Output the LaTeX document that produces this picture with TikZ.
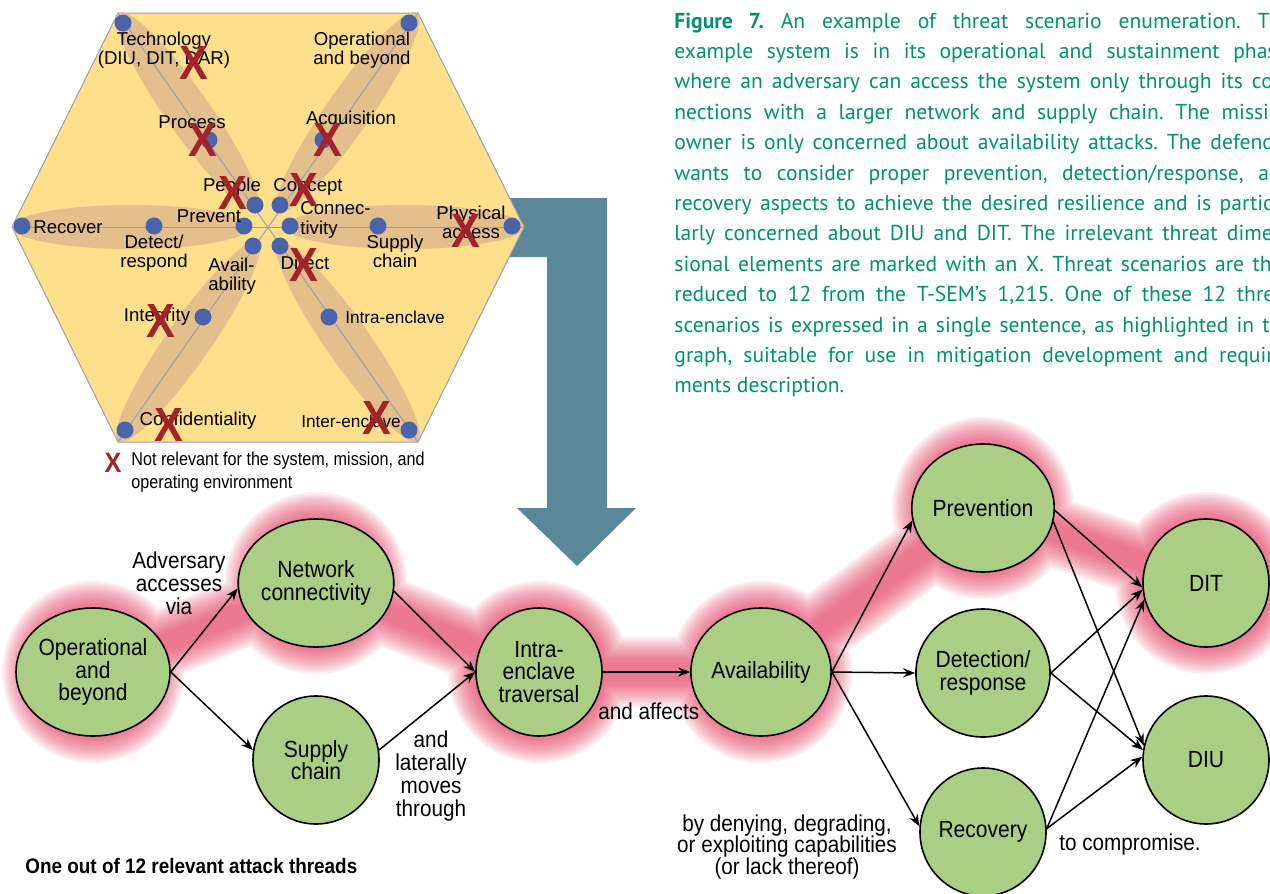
\documentclass[tikz,border=0pt]{standalone}
\usepackage{fontspec}
\setmainfont{Liberation Sans}
\newfontfamily\condf[FakeStretch=0.9]{Liberation Sans}
\newfontfamily\legf[FakeStretch=0.87]{Liberation Sans}
\newfontfamily\capf{PT Sans}
\usetikzlibrary{arrows.meta,shapes.geometric}
\definecolor{hexfill}{HTML}{FDDF8C}
\definecolor{petal}{HTML}{E3BF8B}
\definecolor{dotblue}{HTML}{4A64AC}
\definecolor{xred}{HTML}{A3232B}
\definecolor{arrowteal}{HTML}{5A889A}
\definecolor{nodegreen}{HTML}{AACE83}
\definecolor{glowred}{HTML}{E23A5C}
\definecolor{capgreen}{RGB}{0,145,112}
\definecolor{hexline}{HTML}{9A9EAE}
\frenchspacing
\begin{document}
\begin{tikzpicture}[x=0.5pt,y=-0.5pt,
  gnode/.style={ellipse, draw=black, line width=0.8pt, fill=nodegreen, minimum width=63pt, minimum height=64pt, inner sep=0pt, align=center, font=\condf\fontsize{11.7pt}{11.3pt}\selectfont},
  conn/.style={line width=0.75pt, -{Stealth[length=6pt,width=4.6pt]}},
  elabel/.style={align=center, font=\condf\fontsize{11.5pt}{11.5pt}\selectfont, inner sep=0pt},
  hlabel/.style={align=center, font=\fontsize{9.3pt}{9.6pt}\selectfont, inner sep=0pt},
  hsmall/.style={align=center, font=\fontsize{8.6pt}{9pt}\selectfont, inner sep=0pt},
  xmark/.style={text=xred, font=\condf\bfseries\fontsize{24pt}{24pt}\selectfont, inner sep=0pt},
  bluedot/.style={fill=dotblue},
  petalfill/.style={fill=petal},
  capline/.style={anchor=base west, inner sep=0pt, text=capgreen, font=\capf\fontsize{10.8pt}{11pt}\selectfont}
]
\useasboundingbox (0,0) rectangle (1270,894);
\clip (0,0) rectangle (1270,894);

% ---------- big bent arrow (behind hexagon)
\fill[arrowteal] (505,198) -- (607,198) -- (607,508) -- (636,508) -- (577,566) -- (517,508) -- (547,508) -- (547,257) -- (505,257) -- cycle;

% ---------- hexagon
\filldraw[fill=hexfill, draw=hexline, line width=0.5pt] (118,13) -- (418,13) -- (524,227) -- (418,442) -- (118,442) -- (12,227) -- cycle;

% petals
\fill[petalfill, rotate around={125:(188,112)}] (188,112) ellipse [x radius=121, y radius=22];
\fill[petalfill, rotate around={55:(348,112)}] (348,112) ellipse [x radius=121, y radius=22];
\fill[petalfill, rotate around={55:(188,342)}] (188,342) ellipse [x radius=121, y radius=22];
\fill[petalfill, rotate around={125:(348,342)}] (348,342) ellipse [x radius=121, y radius=22];
\fill[petalfill] (131,227) ellipse [x radius=119, y radius=22];
\fill[petalfill] (405,227) ellipse [x radius=119, y radius=22];

% axes
\draw[hexline, line width=0.5pt] (118,13) -- (418,442);
\draw[hexline, line width=0.5pt] (418,13) -- (118,442);
\draw[hexline, line width=0.5pt] (12,227) -- (524,227);

% dots
\foreach \p in {(123,23),(209,140),(255,205),(409,23),(323,140),(280,205),(22,226),(154,226),(244,226),(512,226),(378,226),(290,226),(253,246),(203,317),(125,430),(280,246),(329,317),(409,430)}
  \fill[bluedot] \p circle[radius=8.5];

% hexagon labels
\node[hlabel] (lTech) at (164,50) {Technology\\(DIU, DIT, DAR)};
\node[hlabel] (lOper) at (362,50) {Operational\\and beyond};
\node[hlabel] (lProc) at (192,122) {Process};
\node[hlabel] (lAcq) at (351,120) {Acquisition};
\node[hlabel] (lPeop) at (232,187) {People};
\node[hlabel] (lConc) at (308,187) {Concept};
\node[hlabel] (lPrev) at (209,216) {Prevent};
\node[hlabel, align=left, anchor=west] (lConn) at (300,220) {Connec-\\tivity};
\node[hlabel] (lRec) at (68,227) {Recover};
\node[hlabel] (lPhys) at (471,222) {Physical\\access};
\node[hlabel] (lDet) at (154,253) {Detect/\\respond};
\node[hlabel] (lSup) at (395,251) {Supply\\chain};
\node[hlabel, align=left, anchor=west] (lAvail) at (208,276) {Avail-\\ability};
\node[hlabel] (lDir) at (305,263) {Direct};
\node[hlabel] (lInt) at (157,317) {Integrity};
\node[hsmall] (lIntra) at (395,317) {Intra-enclave};
\node[hlabel] (lConf) at (198,421) {Confidentiality};
\node[hsmall] (lInter) at (351,421) {Inter-enclave};

% X marks
\node[xmark] (x1) at (194,63) {X};
\node[xmark] (x2) at (203,140) {X};
\node[xmark] (x3) at (233,193) {X};
\node[xmark] (x4) at (304,190) {X};
\node[xmark] (x5) at (328,140) {X};
\node[xmark] (x6) at (466,231) {X};
\node[xmark] (x7) at (304,265) {X};
\node[xmark] (x8) at (161,321) {X};
\node[xmark] (x9) at (169,425) {X};
\node[xmark] (x10) at (377,418) {X};

% legend
\node[text=xred, font=\condf\bfseries\fontsize{14pt}{14pt}\selectfont, inner sep=0pt] (xleg) at (113,463) {X};
\node[anchor=west, align=left, inner sep=0pt, font=\legf\fontsize{9.3pt}{11.5pt}\selectfont] (legtext) at (131,472) {Not relevant for the system, mission, and\\operating environment};

% ---------- caption
\node[capline] (c1) at (674,28) {\makebox[309pt][s]{\textbf{Figure 7.} An example of threat scenario enumeration. The}};
\node[capline] (c2) at (674,58.4) {\makebox[309pt][s]{example system is in its operational and sustainment phase,}};
\node[capline] (c3) at (674,88.8) {\makebox[309pt][s]{where an adversary can access the system only through its con-}};
\node[capline] (c4) at (674,119.2) {\makebox[309pt][s]{nections with a larger network and supply chain. The mission}};
\node[capline] (c5) at (674,149.6) {\makebox[309pt][s]{owner is only concerned about availability attacks. The defender}};
\node[capline] (c6) at (674,180) {\makebox[309pt][s]{wants to consider proper prevention, detection/response, and}};
\node[capline] (c7) at (674,210.4) {\makebox[309pt][s]{recovery aspects to achieve the desired resilience and is particu-}};
\node[capline] (c8) at (674,240.8) {\makebox[309pt][s]{larly concerned about DIU and DIT. The irrelevant threat dimen-}};
\node[capline] (c9) at (674,271.2) {\makebox[309pt][s]{sional elements are marked with an X. Threat scenarios are thus}};
\node[capline] (c10) at (674,301.6) {\makebox[309pt][s]{reduced to 12 from the T-SEM’s 1,215. One of these 12 threat}};
\node[capline] (c11) at (674,332) {\makebox[309pt][s]{scenarios is expressed in a single sentence, as highlighted in the}};
\node[capline] (c12) at (674,362.4) {\makebox[309pt][s]{graph, suitable for use in mitigation development and require-}};
\node[capline] (c13) at (674,392.8) {ments description.};

% ---------- graph coordinates
\coordinate (cop) at (93,672);
\coordinate (cnet) at (316,583);
\coordinate (csup) at (316,760);
\coordinate (cint) at (539,672);
\coordinate (cav) at (761,672);
\coordinate (cprev) at (983,508);
\coordinate (cdet) at (983,673);
\coordinate (crec) at (983,832);
\coordinate (cdit) at (1206,583);
\coordinate (cdiu) at (1206,760);

% glow (soft halo along the highlighted thread)
\foreach \i [evaluate=\i as \r using 91-2.3*\i, evaluate=\i as \w using 35-2.3*\i] in {0,...,11} {
  \begin{scope}[transparency group, opacity=0.09]
    \draw[glowred, line width=\w pt, line join=round, line cap=round] (cop) -- (cnet) -- (cint) -- (cav) -- (cprev) -- (cdit);
    \fill[glowred] (cop) circle[radius=\r] (cnet) circle[radius=\r] (cint) circle[radius=\r] (cav) circle[radius=\r] (cprev) circle[radius=\r] (cdit) circle[radius=\r];
  \end{scope}
}

% nodes
\node[gnode] (op) at (cop) {Operational\\and\\beyond};
\node[gnode] (net) at (cnet) {Network\\connectivity};
\node[gnode] (sup) at (csup) {Supply\\chain};
\node[gnode] (int) at (cint) {Intra-\\enclave\\traversal};
\node[gnode] (av) at (cav) {Availability};
\node[gnode] (prev) at (cprev) {Prevention};
\node[gnode] (det) at (cdet) {Detection/\\response};
\node[gnode] (rec) at (crec) {Recovery};
\node[gnode] (dit) at (cdit) {DIT};
\node[gnode] (diu) at (cdiu) {DIU};

% edges
\draw[conn] (op.east) -- (net.184);
\draw[conn] (op.east) -- (sup.171);
\draw[conn] (net.354) -- (int.west);
\draw[conn] (sup.9) -- (int.west);
\draw[conn] (int.east) -- (av.west);
\draw[conn] (av.east) -- (prev.190);
\draw[conn] (av.east) -- (det.west);
\draw[conn] (av.east) -- (rec.175);
\draw[conn] (prev.358) -- (dit.184);
\draw[conn] (prev.349) -- (diu.167);
\draw[conn] (det.east) -- (dit.186);
\draw[conn] (det.east) -- (diu.171);
\draw[conn] (rec.3) -- (dit.195);
\draw[conn] (rec.3) -- (diu.177);

% edge labels
\node[elabel] (t1) at (179,583) {Adversary\\accesses\\via};
\node[elabel] (t2) at (431,776) {and\\laterally\\moves\\through};
\node[elabel, anchor=west] (t3) at (598,711) {and affects};
\node[elabel, font=\condf\fontsize{11.5pt}{10.8pt}\selectfont] (t4) at (787,847) {by denying, degrading,\\or exploiting capabilities\\(or lack thereof)};
\node[elabel] (t5) at (1130,845) {to compromise.};
\node[anchor=west, inner sep=0pt, font=\condf\bfseries\fontsize{10.5pt}{10.5pt}\selectfont] (title) at (25,866) {One out of 12 relevant attack threads};
\end{tikzpicture}
\end{document}
